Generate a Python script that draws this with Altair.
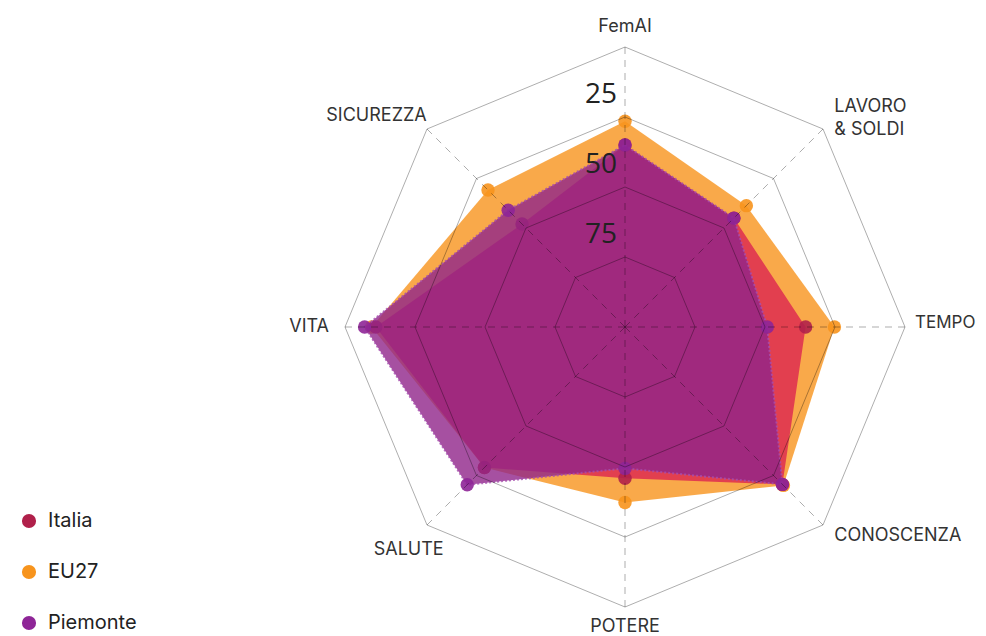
import altair as alt
import pandas as pd

categories = ["FemAI", "LAVORO\n& SOLDI", "TEMPO", "CONOSCENZA", "POTERE", "SALUTE", "VITA", "SICUREZZA"]
italia = [35, 45, 35.5, 20.5, 46, 29, 11, 48]
eu27 = [26.5, 38.7, 25.2, 20, 37.3, 29, 9.5, 30.8]
piemonte = [35, 45, 49.2, 20.5, 49.5, 20.3, 7, 41]
series_names = ["Italia", "EU27", "Piemonte"]
marker_colors = ["#b0204a", "#f7941d", "#8e2597"]
fill_colors = {"Italia": "#dc2450", "EU27": "#f7941d", "Piemonte": "#90248a"}
ring_values = [0, 25, 50, 75]
tick_values = [25, 50, 75]

values = {"Italia": italia, "EU27": eu27, "Piemonte": piemonte}
rows = []
for s in series_names:
    for k in range(len(categories) + 1):
        i = k % len(categories)
        rows.append({"series": s, "k": k, "category": categories[i], "value": values[s][i]})
df = pd.DataFrame(rows)

ring_rows = []
for v in ring_values:
    for k in range(len(categories) + 1):
        ring_rows.append({"ring": v, "k": k, "value": v})
ring_df = pd.DataFrame(ring_rows)
spoke_df = pd.DataFrame({"k": list(range(len(categories))), "category": categories})
label_df = pd.DataFrame({"k": list(range(len(categories))), "category": categories})
tick_df = pd.DataFrame({"value": tick_values, "label": [str(v) for v in tick_values]})

PX = 2.8  # pixels per unit
W, H = 970, 628
CX, CY = 617, 319
xdom = [-CX / PX, (W - CX) / PX]
ydom = [-(H - CY) / PX, CY / PX]

def X(f):
    return alt.X(f, type="quantitative", scale=alt.Scale(domain=xdom, nice=False, zero=False), axis=None)

def Y(f):
    return alt.Y(f, type="quantitative", scale=alt.Scale(domain=ydom, nice=False, zero=False), axis=None)

N = len(categories)
pos = dict(
    xp=f"(100 - datum.value) * sin(datum.k * 2 * PI / {N})",
    yp=f"(100 - datum.value) * cos(datum.k * 2 * PI / {N})",
)

color_scale = alt.Scale(domain=series_names, range=marker_colors)
legend = alt.Legend(title=None, orient="none", legendX=11, legendY=503, padding=0,
                    symbolType="circle", symbolSize=200, symbolOpacity=1, symbolStrokeWidth=0,
                    labelFontSize=20, labelFont="Inter", labelColor="#222", labelOffset=9,
                    rowPadding=31)

base = alt.Chart(df).transform_calculate(**pos)

def fill_layer(s):
    return base.transform_filter(alt.datum.series == s).mark_line(
        filled=True, fill=fill_colors[s], fillOpacity=0.8, strokeOpacity=0
    ).encode(x=X("xp"), y=Y("yp"), order=alt.Order("k:Q"))

def point_layer(s):
    return base.transform_filter((alt.datum.series == s) & (alt.datum.k < N)).mark_circle(
        size=180, opacity=0.9
    ).encode(x=X("xp"), y=Y("yp"), color=alt.Color("series:N", scale=color_scale, legend=legend))

pie_outline = base.transform_filter(alt.datum.series == "Piemonte").mark_line(
    color="#a64fae", strokeWidth=2, strokeDash=[2, 2], opacity=0.8
).encode(x=X("xp"), y=Y("yp"), order=alt.Order("k:Q"))

rings = alt.Chart(ring_df).transform_calculate(**pos).mark_line(
    color="black", strokeOpacity=0.32, strokeWidth=1
).encode(x=X("xp"), y=Y("yp"), detail="ring:N", order=alt.Order("k:Q"))

spokes = alt.Chart(spoke_df).transform_calculate(
    x0="0", y0="0",
    xe=f"102 * sin(datum.k * 2 * PI / {N})",
    ye=f"102 * cos(datum.k * 2 * PI / {N})",
).mark_rule(color="black", strokeOpacity=0.32, strokeWidth=1, strokeDash=[7, 6]).encode(
    x=X("x0"), y=Y("y0"), x2="xe:Q", y2="ye:Q"
)

ticks = alt.Chart(tick_df).transform_calculate(x0="0", yv="100 - datum.value").mark_text(
    align="right", baseline="alphabetic", dx=-8, dy=-14, font="Open Sans", fontSize=28, color="#222"
).encode(x=X("x0"), y=Y("yv"), text="label:N")

def label_layer(cats, r_px, align, dx=0, dy=0, size=18):
    return alt.Chart(label_df).transform_filter(
        alt.FieldOneOfPredicate(field="category", oneOf=cats)
    ).transform_calculate(
        xl=f"{r_px / PX} * sin(datum.k * 2 * PI / {N})",
        yl=f"{r_px / PX} * cos(datum.k * 2 * PI / {N})",
    ).mark_text(
        align=align, baseline="middle", font="Inter", fontSize=size, color="#333",
        lineBreak="\n", lineHeight=23, dx=dx, dy=dy
    ).encode(x=X("xl"), y=Y("yl"), text="category:N")

labels = [
    label_layer(["FemAI", "POTERE"], 300, "center"),
    label_layer(["LAVORO\n& SOLDI"], 296, "left", dy=-11),
    label_layer(["CONOSCENZA"], 296, "left"),
    label_layer(["TEMPO"], 290, "left", dy=-4, size=17),
    label_layer(["VITA"], 296, "right"),
    label_layer(["SICUREZZA"], 296, "right", dx=11, dy=-2),
    label_layer(["SALUTE"], 296, "right", dx=28, dy=14),
]

chart = alt.layer(
    fill_layer("EU27"), point_layer("EU27"),
    fill_layer("Italia"), point_layer("Italia"),
    fill_layer("Piemonte"), pie_outline, point_layer("Piemonte"),
    rings, spokes, ticks, *labels
).properties(
    width=W, height=H, autosize=alt.AutoSizeParams(type="none"), padding=0
).configure_view(strokeWidth=0)

chart.save("out.html", embed_options={"renderer": "svg", "actions": False})
